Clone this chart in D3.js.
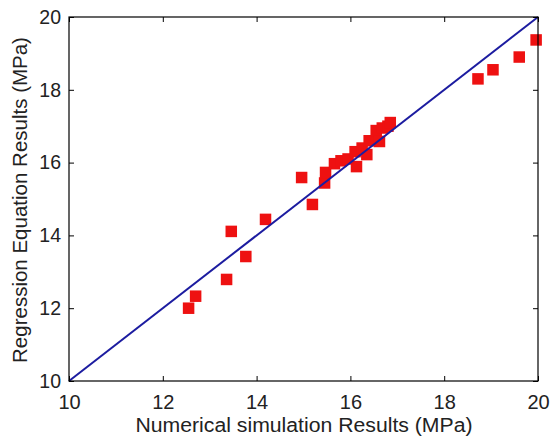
<!DOCTYPE html>
<html><head><meta charset="utf-8">
<script src="https://cdn.jsdelivr.net/npm/d3@7"></script>
<style>body{margin:0;background:#fff}svg{display:block}text{font-family:"Liberation Sans",Arial,sans-serif;fill:#222}</style>
</head><body>
<script>
const simX = [12.55,12.70,13.36,13.46,13.77,14.19,14.96,15.19,15.45,15.47,15.66,15.80,15.95,16.10,16.13,16.25,16.35,16.40,16.55,16.62,16.68,16.80,16.85,18.72,19.04,19.60,19.96];
const regY = [12.00,12.33,12.79,14.11,13.42,14.44,15.59,14.85,15.44,15.73,15.97,16.05,16.10,16.30,15.89,16.40,16.22,16.60,16.88,16.58,16.95,17.00,17.10,18.30,18.55,18.90,19.37];
const xTicks = [10,12,14,16,18,20];
const yTicks = [10,12,14,16,18,20];
const refLine = [10,20];

const W=551,H=437;
const m={l:69,r:13,t:17,b:56};
const svg=d3.select("body").append("svg").attr("width",W).attr("height",H);
const x=d3.scaleLinear().domain([10,20]).range([m.l,W-m.r]);
const y=d3.scaleLinear().domain([10,20]).range([H-m.b,m.t]);

svg.append("g").selectAll("rect").data(simX.map((v,i)=>[v,regY[i]])).join("rect")
  .attr("x",d=>x(d[0])-5.75).attr("y",d=>y(d[1])-5.75).attr("width",11.5).attr("height",11.5)
  .attr("fill","#ee1111");

svg.append("line").attr("x1",x(refLine[0])).attr("y1",y(refLine[0])).attr("x2",x(refLine[1])).attr("y2",y(refLine[1]))
  .attr("stroke","#1c1ca0").attr("stroke-width",2);

const tl=5;
svg.append("g").attr("transform",`translate(0,${H-m.b})`).call(d3.axisBottom(x).tickValues(xTicks).tickSizeInner(-tl).tickSizeOuter(0).tickPadding(14))
  .call(g=>{g.select(".domain").remove();g.selectAll("text").attr("font-size",20).attr("fill","#222");});
svg.append("g").attr("transform",`translate(0,${m.t})`).call(d3.axisTop(x).tickValues(xTicks).tickSizeInner(-tl).tickSizeOuter(0).tickFormat(""))
  .call(g=>g.select(".domain").remove());
svg.append("g").attr("transform",`translate(${m.l},0)`).call(d3.axisLeft(y).tickValues(yTicks).tickSizeInner(-tl).tickSizeOuter(0).tickPadding(8))
  .call(g=>{g.select(".domain").remove();g.selectAll("text").attr("font-size",19.5).attr("fill","#222");});
svg.append("g").attr("transform",`translate(${W-m.r},0)`).call(d3.axisRight(y).tickValues(yTicks).tickSizeInner(-tl).tickSizeOuter(0).tickFormat(""))
  .call(g=>g.select(".domain").remove());
svg.selectAll(".tick line").attr("stroke","#000");

svg.append("rect").attr("x",m.l).attr("y",m.t).attr("width",W-m.l-m.r).attr("height",H-m.t-m.b)
  .attr("fill","none").attr("stroke","#000").attr("stroke-width",1.2);

svg.append("text").attr("x",304).attr("y",432).attr("text-anchor","middle").attr("font-size",20)
  .attr("textLength",337).attr("lengthAdjust","spacingAndGlyphs")
  .text("Numerical simulation Results (MPa)");
svg.append("text").attr("transform",`translate(27,${(m.t+H-m.b)/2+1}) rotate(-90)`).attr("text-anchor","middle").attr("font-size",20.5)
  .text("Regression Equation Results (MPa)");
</script>
</body></html>
